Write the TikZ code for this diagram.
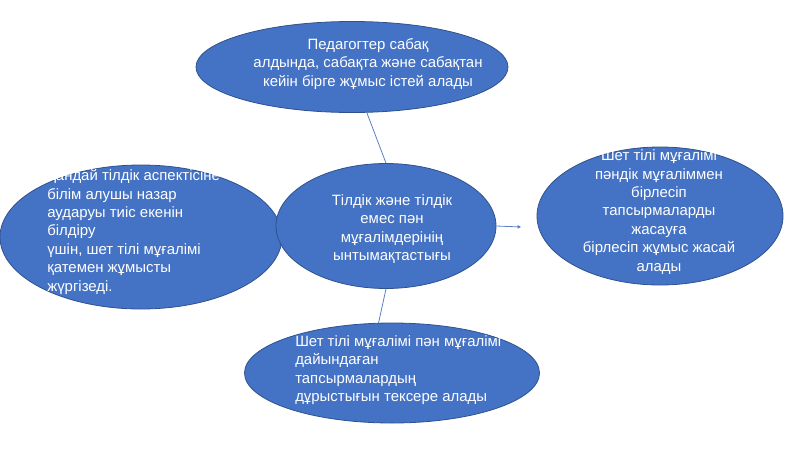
\documentclass[tikz,border=0pt]{standalone}
\usepackage{fontspec}
\setmainfont{Liberation Sans}
\usetikzlibrary{shapes.geometric,arrows.meta}
\definecolor{blueface}{HTML}{4472C4}
\definecolor{blueedge}{HTML}{2F528F}
\definecolor{bluelink}{HTML}{5B7FC4}

\begin{document}
\begin{tikzpicture}[x=0.75pt,y=-0.75pt,
  bubble/.style={ellipse,draw=blueedge,fill=blueface,line width=0.6pt,inner sep=0pt},
  txt/.style={text=white,font=\fontsize{11.2}{13.8}\selectfont,inner sep=0pt},
  link/.style={draw=bluelink,line width=0.6pt}]

\useasboundingbox (0,0) rectangle (800,450);

% ellipses
\node[bubble,minimum width=234pt,minimum height=68.25pt] (top) at (352,67) {};
\node[bubble,minimum width=211.5pt,minimum height=108pt] (left) at (141,237) {};
\node[bubble,minimum width=184.5pt,minimum height=103.5pt] (right) at (660,216) {};
\node[bubble,minimum width=221.25pt,minimum height=75pt] (bottom) at (392,373) {};
\node[bubble,minimum width=165pt,minimum height=93.75pt] (hub) at (386,226) {};

% texts
\node[txt,align=center] (topText) at (368,64) {Педагогтер сабақ\\алдында, сабақта және сабақтан\\кейін бірге жұмыс істей алады};
\node[txt,align=center] (hubText) at (392,229) {Тілдік және тілдік\\емес пән\\мұғалімдерінің\\ынтымақтастығы};
\node[txt,align=left,anchor=west] (leftText) at (47,232) {Қандай тілдік аспектісіне\\білім алушы назар\\аударуы тиіс екенін\\білдіру\\үшін, шет тілі мұғалімі\\қатемен жұмысты\\жүргізеді.};
\node[txt,align=center] (rightText) at (659,212) {Шет тілі мұғалімі\\пәндік мұғаліммен\\бірлесіп\\тапсырмаларды\\жасауға\\бірлесіп жұмыс жасай\\алады};
\node[txt,align=left,anchor=west] (bottomText) at (295,370) {Шет тілі мұғалімі пән мұғалімі\\дайындаған\\тапсырмалардың\\дұрыстығын тексере алады};

% connectors
\coordinate (tip) at (521,227);
\draw[link] (hub.north) -- (top.-72);
\draw[link] (hub.south) -- (bottom.105);
\draw[link,-{Triangle[length=2.5pt,width=2.5pt]}] (hub.east) -- (tip);

\end{tikzpicture}
\end{document}
